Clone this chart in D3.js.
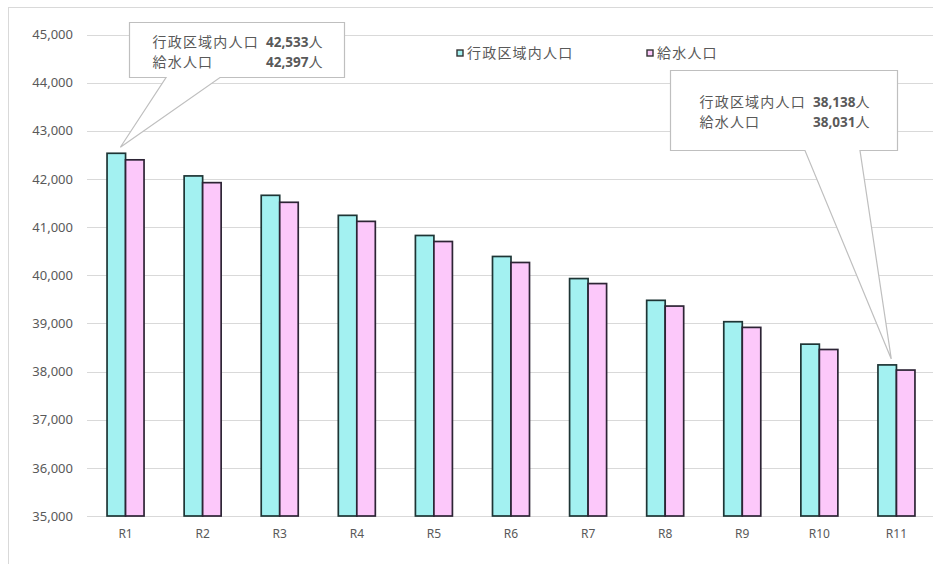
<!DOCTYPE html>
<html lang="ja">
<head>
<meta charset="utf-8">
<script src="https://cdn.jsdelivr.net/npm/d3@7"></script>
<style>
  html, body { margin: 0; padding: 0; background: #fff; }
  svg { display: block; }
  text { font-family: "Noto Sans", "Noto Sans CJK JP", sans-serif; fill: #595959; }
</style>
</head>
<body>
<svg id="chart" width="933" height="564"></svg>
<script>
// Fiscal years
const categories = ["R1", "R2", "R3", "R4", "R5", "R6", "R7", "R8", "R9", "R10", "R11"];
// 行政区域内人口 (population within the administrative area)
const areaPopulation = [42533, 42063, 41660, 41244, 40826, 40390, 39931, 39479, 39035, 38569, 38138];
// 給水人口 (population served by water supply)
const servedPopulation = [42397, 41923, 41515, 41119, 40701, 40265, 39827, 39360, 38917, 38458, 38031];
const seriesNames = ["行政区域内人口", "給水人口"];
const yTicks = [35000, 36000, 37000, 38000, 39000, 40000, 41000, 42000, 43000, 44000, 45000];

const colors = ["#a3f1f1", "#fcc8fa"];
const strokes = ["#1e3535", "#2d2435"];
const cjk = "'Noto Sans CJK JP', sans-serif";
const latin = "'Noto Sans', sans-serif";

const svg = d3.select("#chart");

// outer chart frame
svg.append("rect")
  .attr("x", 8.5).attr("y", 7.5)
  .attr("width", 960).attr("height", 600)
  .attr("fill", "none").attr("stroke", "#d9d9d9");

const x = d3.scaleBand().domain(categories).range([87, 935]).paddingInner(0.52).paddingOuter(0.26);
const xs = d3.scaleBand().domain([0, 1]).range([0, x.bandwidth()]);
const y = d3.scaleLinear().domain([35000, 45000]).range([516, 34.5]);

// horizontal gridlines
svg.append("g").selectAll("line").data(yTicks).join("line")
  .attr("x1", 87).attr("x2", 933)
  .attr("y1", d => Math.round(y(d)) + 0.5).attr("y2", d => Math.round(y(d)) + 0.5)
  .attr("stroke", "#d9d9d9").attr("stroke-width", 1);

// y-axis labels
const yAxis = d3.axisLeft(y).tickValues(yTicks).tickSize(0).tickPadding(0).tickFormat(d3.format(","));
const gy = svg.append("g").attr("transform", "translate(73,0)").call(yAxis);
gy.select(".domain").remove();
gy.selectAll("text").attr("font-size", 13).attr("fill", "#595959").style("font-family", latin);

// x-axis labels
const xAxis = d3.axisBottom(x).tickSize(0).tickPadding(0);
const gx = svg.append("g").attr("transform", "translate(0,529)").call(xAxis);
gx.select(".domain").remove();
gx.selectAll("text").attr("font-size", 12).attr("fill", "#595959").style("font-family", latin);

// bars
const seriesData = [areaPopulation, servedPopulation];
seriesData.forEach((vals, si) => {
  svg.append("g").selectAll("rect").data(vals).join("rect")
    .attr("x", (d, i) => x(categories[i]) + xs(si))
    .attr("y", d => y(d))
    .attr("width", xs.bandwidth())
    .attr("height", d => y(35000) - y(d))
    .attr("fill", colors[si])
    .attr("stroke", strokes[si])
    .attr("stroke-width", 1.7);
});

// legend
const legend = [{ x: 457, label: seriesNames[0] }, { x: 647, label: seriesNames[1] }];
legend.forEach((l, i) => {
  svg.append("rect").attr("x", l.x).attr("y", 50).attr("width", 6).attr("height", 6)
    .attr("fill", colors[i]).attr("stroke", "#333").attr("stroke-width", 1.4);
  svg.append("text").attr("x", l.x + 10).attr("y", 58).attr("font-size", 14)
    .attr("letter-spacing", 1.2).style("font-family", cjk).text(l.label);
});

// value callouts
const fmt = d3.format(",");
function callout(idx, box, baseL, baseR, pad, rowY) {
  const tipX = x(categories[idx]) + xs(0) + xs.bandwidth() * 0.72;
  const tipY = y(areaPopulation[idx]) - 6;
  const [bx0, by0, bx1, by1] = box;
  const path = `M${bx0},${by0}H${bx1}V${by1}H${baseR}L${tipX},${tipY}L${baseL},${by1}H${bx0}Z`;
  svg.append("path").attr("d", path).attr("fill", "#fff")
    .attr("stroke", "#bfbfbf").attr("stroke-width", 1.2);
  const tx = bx0 + pad[0], tr = bx1 - pad[1];
  const rows = [
    [seriesNames[0], areaPopulation[idx]],
    [seriesNames[1], servedPopulation[idx]]
  ];
  rows.forEach((r, k) => {
    const ty = by0 + rowY[k];
    svg.append("text").attr("x", tx).attr("y", ty).attr("font-size", 14)
      .attr("letter-spacing", 1.2).style("font-family", cjk).text(r[0]);
    const t = svg.append("text").attr("x", tr).attr("y", ty).attr("font-size", 13.5)
      .attr("text-anchor", "end");
    t.append("tspan").attr("font-weight", "bold").style("font-family", latin).text(fmt(r[1]));
    t.append("tspan").attr("font-size", 14).style("font-family", cjk).text("人");
  });
}
callout(0, [129.5, 22.5, 344.5, 77.5], 166, 220, [23, 22], [24, 44]);
callout(10, [670.5, 70.5, 897.5, 150.5], 805, 860, [29, 28], [36, 56]);
</script>
</body>
</html>
